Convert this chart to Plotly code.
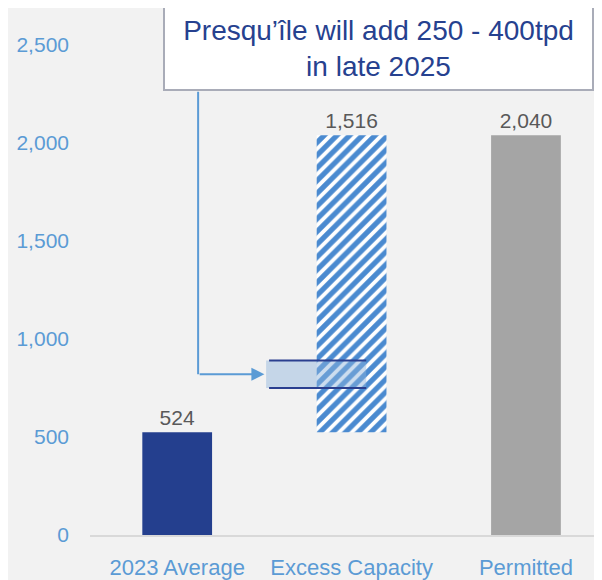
import plotly.graph_objects as go

# ---- data ----
categories = ["2023 Average", "Excess Capacity", "Permitted"]
average_2023 = 524
excess_capacity = 1516
permitted = 2040
band_low = 750      # Presqu'île range band (tpd, drawn on chart scale)
band_high = 890
y_ticks = [0, 500, 1000, 1500, 2000, 2500]
y_tick_labels = ["0", "500", "1,000", "1,500", "2,000", "2,500"]
callout_text = "Presqu\u2019île will add 250 - 400tpd<br>in late 2025"

FONT = "Liberation Sans, Arial, sans-serif"
BG = "#f2f2f2"
NAVY = "#243f8e"
HATCH_BLUE = "#4a8ad0"
GREY = "#a5a5a5"
LABEL_GREY = "#595959"
AXIS_BLUE = "#5b9bd5"

fig = go.Figure()

fig.add_trace(go.Bar(
    x=[categories[0]], y=[average_2023],
    marker=dict(color=NAVY, line=dict(width=0)),
    text=[f"{average_2023:,}"], textposition="outside",
    textfont=dict(size=21, color=LABEL_GREY, family=FONT),
    width=0.40, cliponaxis=False,
))
fig.add_trace(go.Bar(
    x=[categories[1]], y=[excess_capacity], base=[average_2023],
    marker=dict(color=HATCH_BLUE, line=dict(width=0),
                pattern=dict(shape="/", fgcolor="white", bgcolor=HATCH_BLUE,
                             size=9, solidity=0.42, fillmode="replace")),
    text=[f"{excess_capacity:,}"], textposition="outside",
    textfont=dict(size=21, color=LABEL_GREY, family=FONT),
    width=0.40, cliponaxis=False,
))
fig.add_trace(go.Bar(
    x=[categories[2]], y=[permitted],
    marker=dict(color=GREY, line=dict(width=0)),
    text=[f"{permitted:,}"], textposition="outside",
    textfont=dict(size=21, color=LABEL_GREY, family=FONT),
    width=0.40, cliponaxis=False,
))

band_mid = (band_low + band_high) / 2
fig.add_shape(type="rect", xref="x", yref="y", x0=0.51, x1=1.084,
              y0=band_low, y1=band_high, line=dict(width=0),
              fillcolor="rgba(142,180,220,0.45)", layer="above")
for yv in (band_low, band_high):
    fig.add_shape(type="line", xref="x", yref="y", x0=0.527, x1=1.084,
                  y0=yv, y1=yv, line=dict(color="#2a3f8f", width=2), layer="above")

fig.add_shape(type="line", xref="x", yref="y", x0=0.12, x1=0.12,
              y0=band_mid, y1=2262, line=dict(color=AXIS_BLUE, width=2))
fig.add_annotation(x=0.5, y=band_mid, ax=0.12, ay=band_mid,
                   xref="x", yref="y", axref="x", ayref="y",
                   showarrow=True, arrowhead=2, arrowsize=1.3, arrowwidth=2,
                   arrowcolor=AXIS_BLUE, text="")

fig.add_annotation(x=0.5635, y=0.993, xref="paper", yref="paper",
                   xanchor="center", yanchor="middle",
                   text=callout_text, showarrow=False,
                   font=dict(size=28, color="#26418f", family=FONT),
                   align="center", bgcolor="white", bordercolor="#a9acb8",
                   borderwidth=2, borderpad=0, width=427, height=81)

fig.update_layout(
    width=594, height=572,
    margin=dict(l=82, r=0, t=37, b=45),
    paper_bgcolor=BG, plot_bgcolor=BG,
    showlegend=False, barmode="overlay",
    font=dict(family=FONT),
    xaxis=dict(range=[-0.5, 2.436], showgrid=False, zeroline=False,
               showline=True, linecolor="#d9d9d9", linewidth=2,
               ticks="outside", ticklen=0, ticklabelstandoff=12,
               tickfont=dict(size=22, color=AXIS_BLUE, family=FONT)),
    yaxis=dict(range=[0, 2500], tickvals=y_ticks, ticktext=y_tick_labels,
               showgrid=False, zeroline=False, showline=False,
               ticklabelstandoff=20,
               tickfont=dict(size=21, color=AXIS_BLUE, family=FONT)),
)

fig.write_html("out.html", config={"displayModeBar": False})
